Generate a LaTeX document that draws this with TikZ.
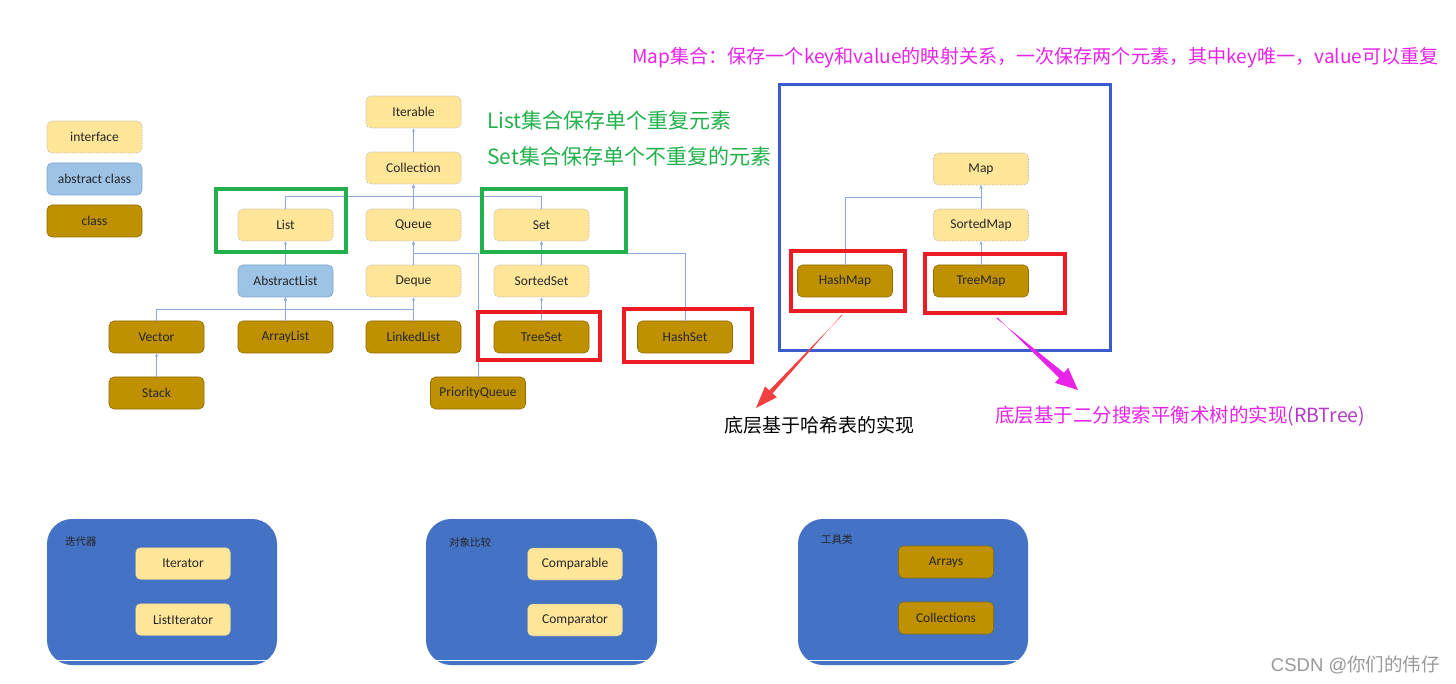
\documentclass[tikz,border=0pt]{standalone}
\usepackage{fontspec}
\setmainfont{Carlito}
\newfontfamily\cjk{Noto Sans CJK SC}
\newfontfamily\wmfont{Liberation Sans}
\usetikzlibrary{arrows.meta,calc}

\definecolor{ifill}{HTML}{FFE699}
\definecolor{iborder}{HTML}{A6A6A6}
\definecolor{afill}{HTML}{9DC3E6}
\definecolor{aborder}{HTML}{7FA6CF}
\definecolor{cfill}{HTML}{BF9000}
\definecolor{cborder}{HTML}{8F6C00}
\definecolor{connc}{HTML}{8EA9DB}
\definecolor{grn}{HTML}{22B14C}
\definecolor{redc}{HTML}{ED1C24}
\definecolor{arrred}{HTML}{F24040}
\definecolor{mag}{HTML}{E824E8}
\definecolor{rbpurple}{HTML}{B23CC8}
\definecolor{mapblue}{HTML}{3B5BD0}
\definecolor{panel}{HTML}{4472C4}

% tapered block arrow: #1 tail, #2 tip, #3 tail half-width, #4 shaft half-width at head,
% #5 head length, #6 head half-width
\newcommand{\taperarrow}[6]{%
  coordinate (tb) at ($(#2)!#5!(#1)$)
  ($(#1)!#3!90:(#2)$) -- ($(tb)!#4!-90:(#2)$) -- ($(tb)!#6!-90:(#2)$) -- (#2)
  -- ($(tb)!#6!90:(#2)$) -- ($(tb)!#4!90:(#2)$) -- ($(#1)!#3!-90:(#2)$) -- cycle}

\begin{document}
\begin{tikzpicture}[x=1pt,y=-1pt,
  box/.style={rounded corners=5pt, minimum width=95pt, minimum height=32pt,
    inner sep=0pt, font=\fontsize{13.5}{13.5}\selectfont, text=black!85},
  iface/.style={box, fill=ifill, draw=iborder, densely dotted, line width=0.6pt},
  aclass/.style={box, fill=afill, draw=aborder, line width=0.6pt},
  cls/.style={box, fill=cfill, draw=cborder, line width=0.6pt},
  conn/.style={draw=connc, line width=0.7pt, -{Stealth[length=3.5pt,width=3pt]}},
  greenbox/.style={draw=grn, line width=4pt},
  redbox/.style={draw=redc, line width=4pt},
  note/.style={anchor=west, inner sep=0pt, font=\cjk\fontsize{#1}{#1}\selectfont},
  panelbox/.style={fill=panel, rounded corners=25pt},
  paneltitle/.style={anchor=west, inner sep=0pt, text=black!85, font=\cjk\fontsize{10.5}{10.5}\selectfont},
]
\useasboundingbox (0,0) rectangle (1456,684);
\fill[white] (0,0) rectangle (1456,684);

% ---------- legend ----------
\node[iface]  (lgI) at (94.5,137) {interface};
\node[aclass] (lgA) at (94.5,179) {abstract class};
\node[cls]    (lgC) at (94.5,221) {class};

% ---------- collection hierarchy ----------
\node[iface]  (Iterable)   at (413.5,112) {Iterable};
\node[iface]  (Collection) at (413.5,168) {Collection};
\node[iface]  (List)       at (285.5,225) {List};
\node[iface]  (Queue)      at (413.5,225) {Queue};
\node[iface]  (Set)        at (541.5,225) {Set};
\node[aclass] (AbstractList) at (285.5,281) {AbstractList};
\node[iface]  (Deque)      at (413.5,281) {Deque};
\node[iface]  (SortedSet)  at (541.5,281) {SortedSet};
\node[cls]    (Vector)     at (156.5,337) {Vector};
\node[cls]    (ArrayList)  at (285.5,337) {ArrayList};
\node[cls]    (LinkedList) at (413.5,337) {LinkedList};
\node[cls]    (TreeSet)    at (541.5,337) {TreeSet};
\node[cls]    (HashSet)    at (685,337)   {HashSet};
\node[cls]    (Stack)      at (156.5,393) {Stack};
\node[cls]    (PriorityQueue) at (478,393) {PriorityQueue};

\draw[conn] (Collection.north) -- (Iterable.south);
\draw[conn] (List.north) |- ([yshift=-12pt]Collection.south) -- (Collection.south);
\draw[conn] (Set.north)  |- ([yshift=-12pt]Collection.south) -- (Collection.south);
\draw[conn] (Queue.north) -- (Collection.south);
\draw[conn] (AbstractList.north) -- (List.south);
\draw[conn] (Deque.north) -- (Queue.south);
\draw[conn] (PriorityQueue.north) |- ([yshift=-12pt]Queue.south) -- (Queue.south);
\draw[conn] (SortedSet.north) -- (Set.south);
\draw[conn] (HashSet.north) |- ([yshift=-12pt]Set.south) -- (Set.south);
\draw[conn] (Vector.north) |- ([yshift=-12pt]AbstractList.south) -- (AbstractList.south);
\draw[conn] (ArrayList.north) -- (AbstractList.south);
\draw[conn] (LinkedList.north) |- ([yshift=-12pt]AbstractList.south) -- (AbstractList.south);
\draw[conn] (LinkedList.north) -- (Deque.south);
\draw[conn] (TreeSet.north) -- (SortedSet.south);
\draw[conn] (Stack.north) -- (Vector.south);

% highlight frames
\draw[greenbox] (216,189) rectangle (346,252);
\draw[greenbox] (482,189) rectangle (626,252);
\draw[redbox] (478,312) rectangle (600,360);
\draw[redbox] (624,309) rectangle (752,362);

\node[note=21, text=grn] (listNote) at (487,120) {List集合保存单个重复元素};
\node[note=21, text=grn] (setNote)  at (487,156) {Set集合保存单个不重复的元素};

% ---------- map hierarchy ----------
\node[note=19.1, text=mag] (mapNote) at (632,58)
  {Map集合：保存一个key和value的映射关系，一次保存两个元素，其中key唯一，value可以重复};
\draw[draw=mapblue, line width=3pt] (779,85) rectangle (1110,351);

\node[iface] (Map)       at (981,169) {Map};
\node[iface] (SortedMap) at (981,225) {SortedMap};
\node[cls]   (HashMap)   at (845,281) {HashMap};
\node[cls]   (TreeMap)   at (981,281) {TreeMap};

\draw[conn] (SortedMap.north) -- (Map.south);
\draw[conn] (HashMap.north) |- ([yshift=-12pt]Map.south) -- (Map.south);
\draw[conn] (TreeMap.north) -- (SortedMap.south);

\draw[redbox] (791,251) rectangle (905,311);
\draw[redbox] (925,254) rectangle (1065,313);

% pointers to the notes below
\coordinate (hmTail) at (842,315);
\coordinate (hmTip)  at (756,408);
\coordinate (tmTail) at (997,318);
\coordinate (tmTip)  at (1078,390);
\fill[arrred] \taperarrow{hmTail}{hmTip}{0.4pt}{2.2pt}{22pt}{8pt};
\fill[mag]    \taperarrow{tmTail}{tmTip}{0.6pt}{3.5pt}{22pt}{10pt};

\node[note=19, text=black] (hashNote) at (724,425) {底层基于哈希表的实现};
\node[note=19.5, text=mag] (treeNote) at (995,416)
  {底层基于二分搜索平衡术树的实现\textcolor{rbpurple}{(RBTree)}};

% ---------- bottom panels ----------
\fill[panelbox] (47,519) rectangle (277,665);
\draw[white, line width=1pt] (40,660.5) -- (285,660.5);
\node[paneltitle] (itTitle) at (65,542) {迭代器};
\node[iface] (Iterator)     at (183,563.5) {Iterator};
\node[iface] (ListIterator) at (183,619.5) {ListIterator};

\fill[panelbox] (426,519) rectangle (657,665);
\draw[white, line width=1pt] (420,660.5) -- (665,660.5);
\node[paneltitle] (cmpTitle) at (449,542) {对象比较};
\node[iface] (Comparable) at (575,564) {Comparable};
\node[iface] (Comparator) at (575,620) {Comparator};

\fill[panelbox] (798,519) rectangle (1028,665);
\draw[white, line width=1pt] (790,660.5) -- (1035,660.5);
\node[paneltitle] (toolTitle) at (821,540) {工具类};
\node[cls] (Arrays)      at (946,562) {Arrays};
\node[cls] (Collections) at (946,618) {Collections};

\node[anchor=east, inner sep=0pt, text=black!40,
      font=\fontsize{18.5}{18.5}\selectfont] (mark) at (1440,665)
  {\wmfont CSDN @\cjk 你们的伟仔};
\end{tikzpicture}
\end{document}
